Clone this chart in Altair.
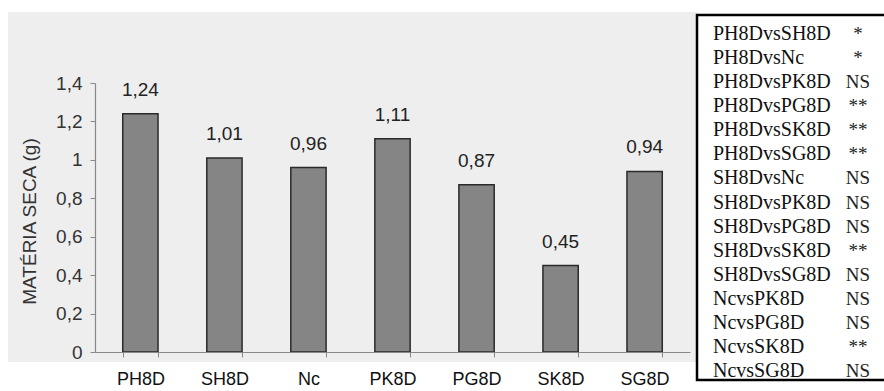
import altair as alt
import pandas as pd

# ---- data ----
treatments = ["PH8D", "SH8D", "Nc", "PK8D", "PG8D", "SK8D", "SG8D"]
dry_mass = [1.24, 1.01, 0.96, 1.11, 0.87, 0.45, 0.94]
y_ticks = [0, 0.2, 0.4, 0.6, 0.8, 1.0, 1.2, 1.4]

comparisons = [
    "PH8DvsSH8D", "PH8DvsNc", "PH8DvsPK8D", "PH8DvsPG8D", "PH8DvsSK8D",
    "PH8DvsSG8D", "SH8DvsNc", "SH8DvsPK8D", "SH8DvsPG8D", "SH8DvsSK8D",
    "SH8DvsSG8D", "NcvsPK8D", "NcvsPG8D", "NcvsSK8D", "NcvsSG8D",
]
significance = ["*", "*", "NS", "**", "**", "**", "NS", "NS", "NS", "**",
                "NS", "NS", "NS", "**", "NS"]

bars_df = pd.DataFrame({"trat": treatments, "ms": dry_mass})
cmp_df = pd.DataFrame({
    "comp": comparisons,
    "sig": significance,
    "row": list(range(len(comparisons))),
})
one = pd.DataFrame({"k": [0]})

# ---- layout (plot area origin at 95,83 in the 884x391 page) ----
W, H = 595, 269
OX, OY = 95, 83

x_enc = alt.X(
    "trat:N", sort=treatments, title=None,
    scale=alt.Scale(paddingInner=0.58, paddingOuter=0.33),
    axis=alt.Axis(labelAngle=0, labelFontSize=18, labelFont="Liberation Sans",
                  labelColor="#111", labelPadding=13, tickBand="extent",
                  tickSize=5, tickColor="#888", domainColor="#888",
                  domainWidth=1.2, zindex=1),
)
y_scale = alt.Scale(domain=[0, 1.4], nice=False)
y_enc = alt.Y(
    "ms:Q", title="MATÉRIA SECA (g)", scale=y_scale,
    axis=alt.Axis(values=y_ticks,
                  labelExpr="replace(format(datum.value, '~g'), '.', ',')",
                  labelOverlap=False, labelFlush=False,
                  labelFontSize=19, labelFont="Liberation Sans", labelColor="#333",
                  labelPadding=8, tickSize=5, tickColor="#888",
                  domainColor="#888", domainWidth=1.2, grid=False,
                  titleFont="Liberation Sans", titleFontSize=19,
                  titleFontWeight="normal", titleColor="#333",
                  titleAngle=270, titleAlign="center", titleBaseline="middle",
                  titleX=-66, titleY=138, zindex=1),
)

# scanned grey backdrop behind the chart
backdrop = alt.Chart(one).mark_rect(fill="#eeeeee").encode(
    x=alt.value(8 - OX), x2=alt.value(697 - OX),
    y=alt.value(12 - OY), y2=alt.value(362 - OY),
)

# box holding the comparisons
box = alt.Chart(one).mark_rect(fill="white", stroke="black", strokeWidth=2.5).encode(
    x=alt.value(697 - OX), x2=alt.value(900 - OX),
    y=alt.value(15 - OY), y2=alt.value(380 - OY),
)

bars = alt.Chart(bars_df).mark_bar(
    fill="#858585", stroke="#2a2a2a", strokeWidth=1.5
).encode(x=x_enc, y=y_enc)

bar_labels = alt.Chart(bars_df).transform_calculate(
    lab="replace(format(datum.ms, '.2f'), '.', ',')"
).mark_text(
    dy=-18, baseline="alphabetic", fontSize=19, font="Liberation Sans", color="#222"
).encode(x=x_enc, y=y_enc, text="lab:N")

bar_part = alt.layer(bars, bar_labels)

row_y = alt.Y("row:Q", axis=None,
              scale=alt.Scale(domain=[0, 14], range=[34 - OY, 371 - OY],
                              nice=False, zero=False))

cmp_text = alt.Chart(cmp_df).mark_text(
    align="left", baseline="middle", font="Liberation Serif", fontSize=20,
    color="#111"
).encode(x=alt.value(713 - OX), y=row_y, text="comp:N")

sig_text = alt.Chart(cmp_df).mark_text(
    align="center", baseline="middle", font="Liberation Serif", fontSize=19,
    color="#222"
).encode(x=alt.value(858 - OX), y=row_y, text="sig:N")

chart = alt.layer(
    backdrop, box, bar_part, cmp_text, sig_text
).resolve_scale(y="independent").properties(
    width=W, height=H,
    autosize=alt.AutoSizeParams(type="none"),
    padding={"left": OX, "top": OY, "right": 884 - OX - W, "bottom": 391 - OY - H},
    background="white",
).configure_view(stroke=None)

chart.save("out.html", embed_options={"renderer": "svg", "actions": False})
